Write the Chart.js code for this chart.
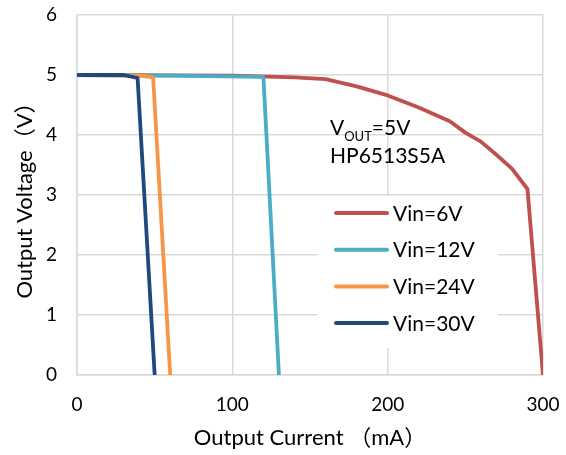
<!DOCTYPE html>
<html lang="en">
<head>
<meta charset="UTF-8">
<title>Output Voltage vs Output Current</title>
<script src="https://cdn.jsdelivr.net/npm/chart.js@4"></script>
<style>
    body { margin: 0; background: #fff; }
    #wrap { position: relative; width: 566px; height: 455px; }
</style>
</head>
<body>
<div id="wrap"><canvas id="curve" width="566" height="455"></canvas></div>
<script>
// series: output current (mA) / output voltage (V)
var vin6_x  = [0, 100, 140, 160, 180, 200, 220, 240, 250, 260, 270, 280, 290, 300];
var vin6_y  = [5.0, 4.99, 4.96, 4.93, 4.81, 4.66, 4.46, 4.23, 4.04, 3.89, 3.67, 3.44, 3.1, 0];
var vin12_x = [0, 60, 120, 130];
var vin12_y = [5.0, 4.99, 4.97, 0];
var vin24_x = [0, 40, 49, 60];
var vin24_y = [5.0, 4.99, 4.96, 0];
var vin30_x = [0, 30, 39, 50];
var vin30_y = [5.0, 5.0, 4.95, 0];

var x_ticks = [0, 100, 200, 300];
var y_ticks = [0, 1, 2, 3, 4, 5, 6];

var names  = ['Vin=6V', 'Vin=12V', 'Vin=24V', 'Vin=30V'];
var colors = ['#C0504D', '#4BACC6', '#F79646', '#1F497D'];

var FONT = "Lato, 'Noto Sans CJK SC', sans-serif";

function pts(xs, ys) {
    var out = [];
    for (var i = 0; i < xs.length; i++) out.push({x: xs[i], y: ys[i]});
    return out;
}

// legend + note drawn in the plot, like the office chart
var boxPlugin = {
    id: 'boxes',
    afterDatasetsDraw: function(chart) {
        var ctx = chart.ctx;
        ctx.save();
        ctx.fillStyle = '#fff';
        ctx.fillRect(317, 196, 181, 152);

        ctx.lineCap = 'round';
        ctx.lineWidth = 4;
        ctx.font = '21px ' + FONT;
        ctx.textBaseline = 'middle';
        for (var i = 0; i < names.length; i++) {
            var y = 213 + i * 36.7;
            ctx.strokeStyle = colors[i];
            ctx.beginPath();
            ctx.moveTo(336, y);
            ctx.lineTo(387, y);
            ctx.stroke();
            ctx.fillStyle = '#000';
            ctx.fillText(names[i], 393, y + 1);
        }

        ctx.textBaseline = 'alphabetic';
        ctx.fillStyle = '#000';
        ctx.font = '21px ' + FONT;
        ctx.fillText('V', 330, 135);
        var w = ctx.measureText('V').width;
        ctx.font = '13px ' + FONT;
        ctx.fillText('OUT', 330 + w, 141);
        var w2 = ctx.measureText('OUT').width;
        ctx.font = '21px ' + FONT;
        ctx.fillText('=5V', 330 + w + w2, 135);
        ctx.fillText('HP6513S5A', 330, 163);
        ctx.restore();
    }
};

new Chart(document.getElementById('curve'), {
    type: 'line',
    data: {
        datasets: [
            { label: names[0], data: pts(vin6_x, vin6_y),   borderColor: colors[0], order: 4 },
            { label: names[1], data: pts(vin12_x, vin12_y), borderColor: colors[1], order: 3 },
            { label: names[2], data: pts(vin24_x, vin24_y), borderColor: colors[2], order: 2 },
            { label: names[3], data: pts(vin30_x, vin30_y), borderColor: colors[3], order: 1 }
        ]
    },
    options: {
        responsive: false,
        animation: false,
        devicePixelRatio: 1,
        layout: { padding: { top: 15, right: 23, left: 0, bottom: 0 } },
        elements: {
            line: { borderWidth: 3.8, tension: 0, fill: false, borderJoinStyle: 'round' },
            point: { radius: 0, hoverRadius: 0 }
        },
        plugins: {
            legend: { display: false },
            tooltip: { enabled: false }
        },
        scales: {
            x: {
                type: 'linear',
                min: 0, max: 300,
                afterBuildTicks: function(s) { s.ticks = x_ticks.map(function(v) { return {value: v}; }); },
                afterFit: function(s) { s.height = 80; s.paddingLeft = 0; s.paddingRight = 0; },
                grid: { color: '#d9d9d9', lineWidth: 1.5, drawTicks: false },
                border: { color: '#d9d9d9', width: 1.5 },
                ticks: { padding: 18, color: '#000', font: { family: FONT, size: 19 }, maxRotation: 0 },
                title: { display: true, text: 'Output Current （mA）', color: '#000',
                         font: { family: FONT, size: 22 }, padding: { top: 0, bottom: 4 } }
            },
            y: {
                type: 'linear',
                min: 0, max: 6,
                afterBuildTicks: function(s) { s.ticks = y_ticks.map(function(v) { return {value: v}; }); },
                afterFit: function(s) { s.width = 77; s.paddingTop = 0; s.paddingBottom = 0; },
                grid: { color: '#d9d9d9', lineWidth: 1.5, drawTicks: false },
                border: { color: '#d9d9d9', width: 1.5 },
                ticks: { padding: 20, color: '#000', font: { family: FONT, size: 19 } },
                title: { display: true, text: 'Output Voltage（V）', color: '#000',
                         font: { family: FONT, size: 22 }, padding: { top: 12, bottom: 0 } }
            }
        }
    },
    plugins: [boxPlugin]
});
</script>
</body>
</html>
